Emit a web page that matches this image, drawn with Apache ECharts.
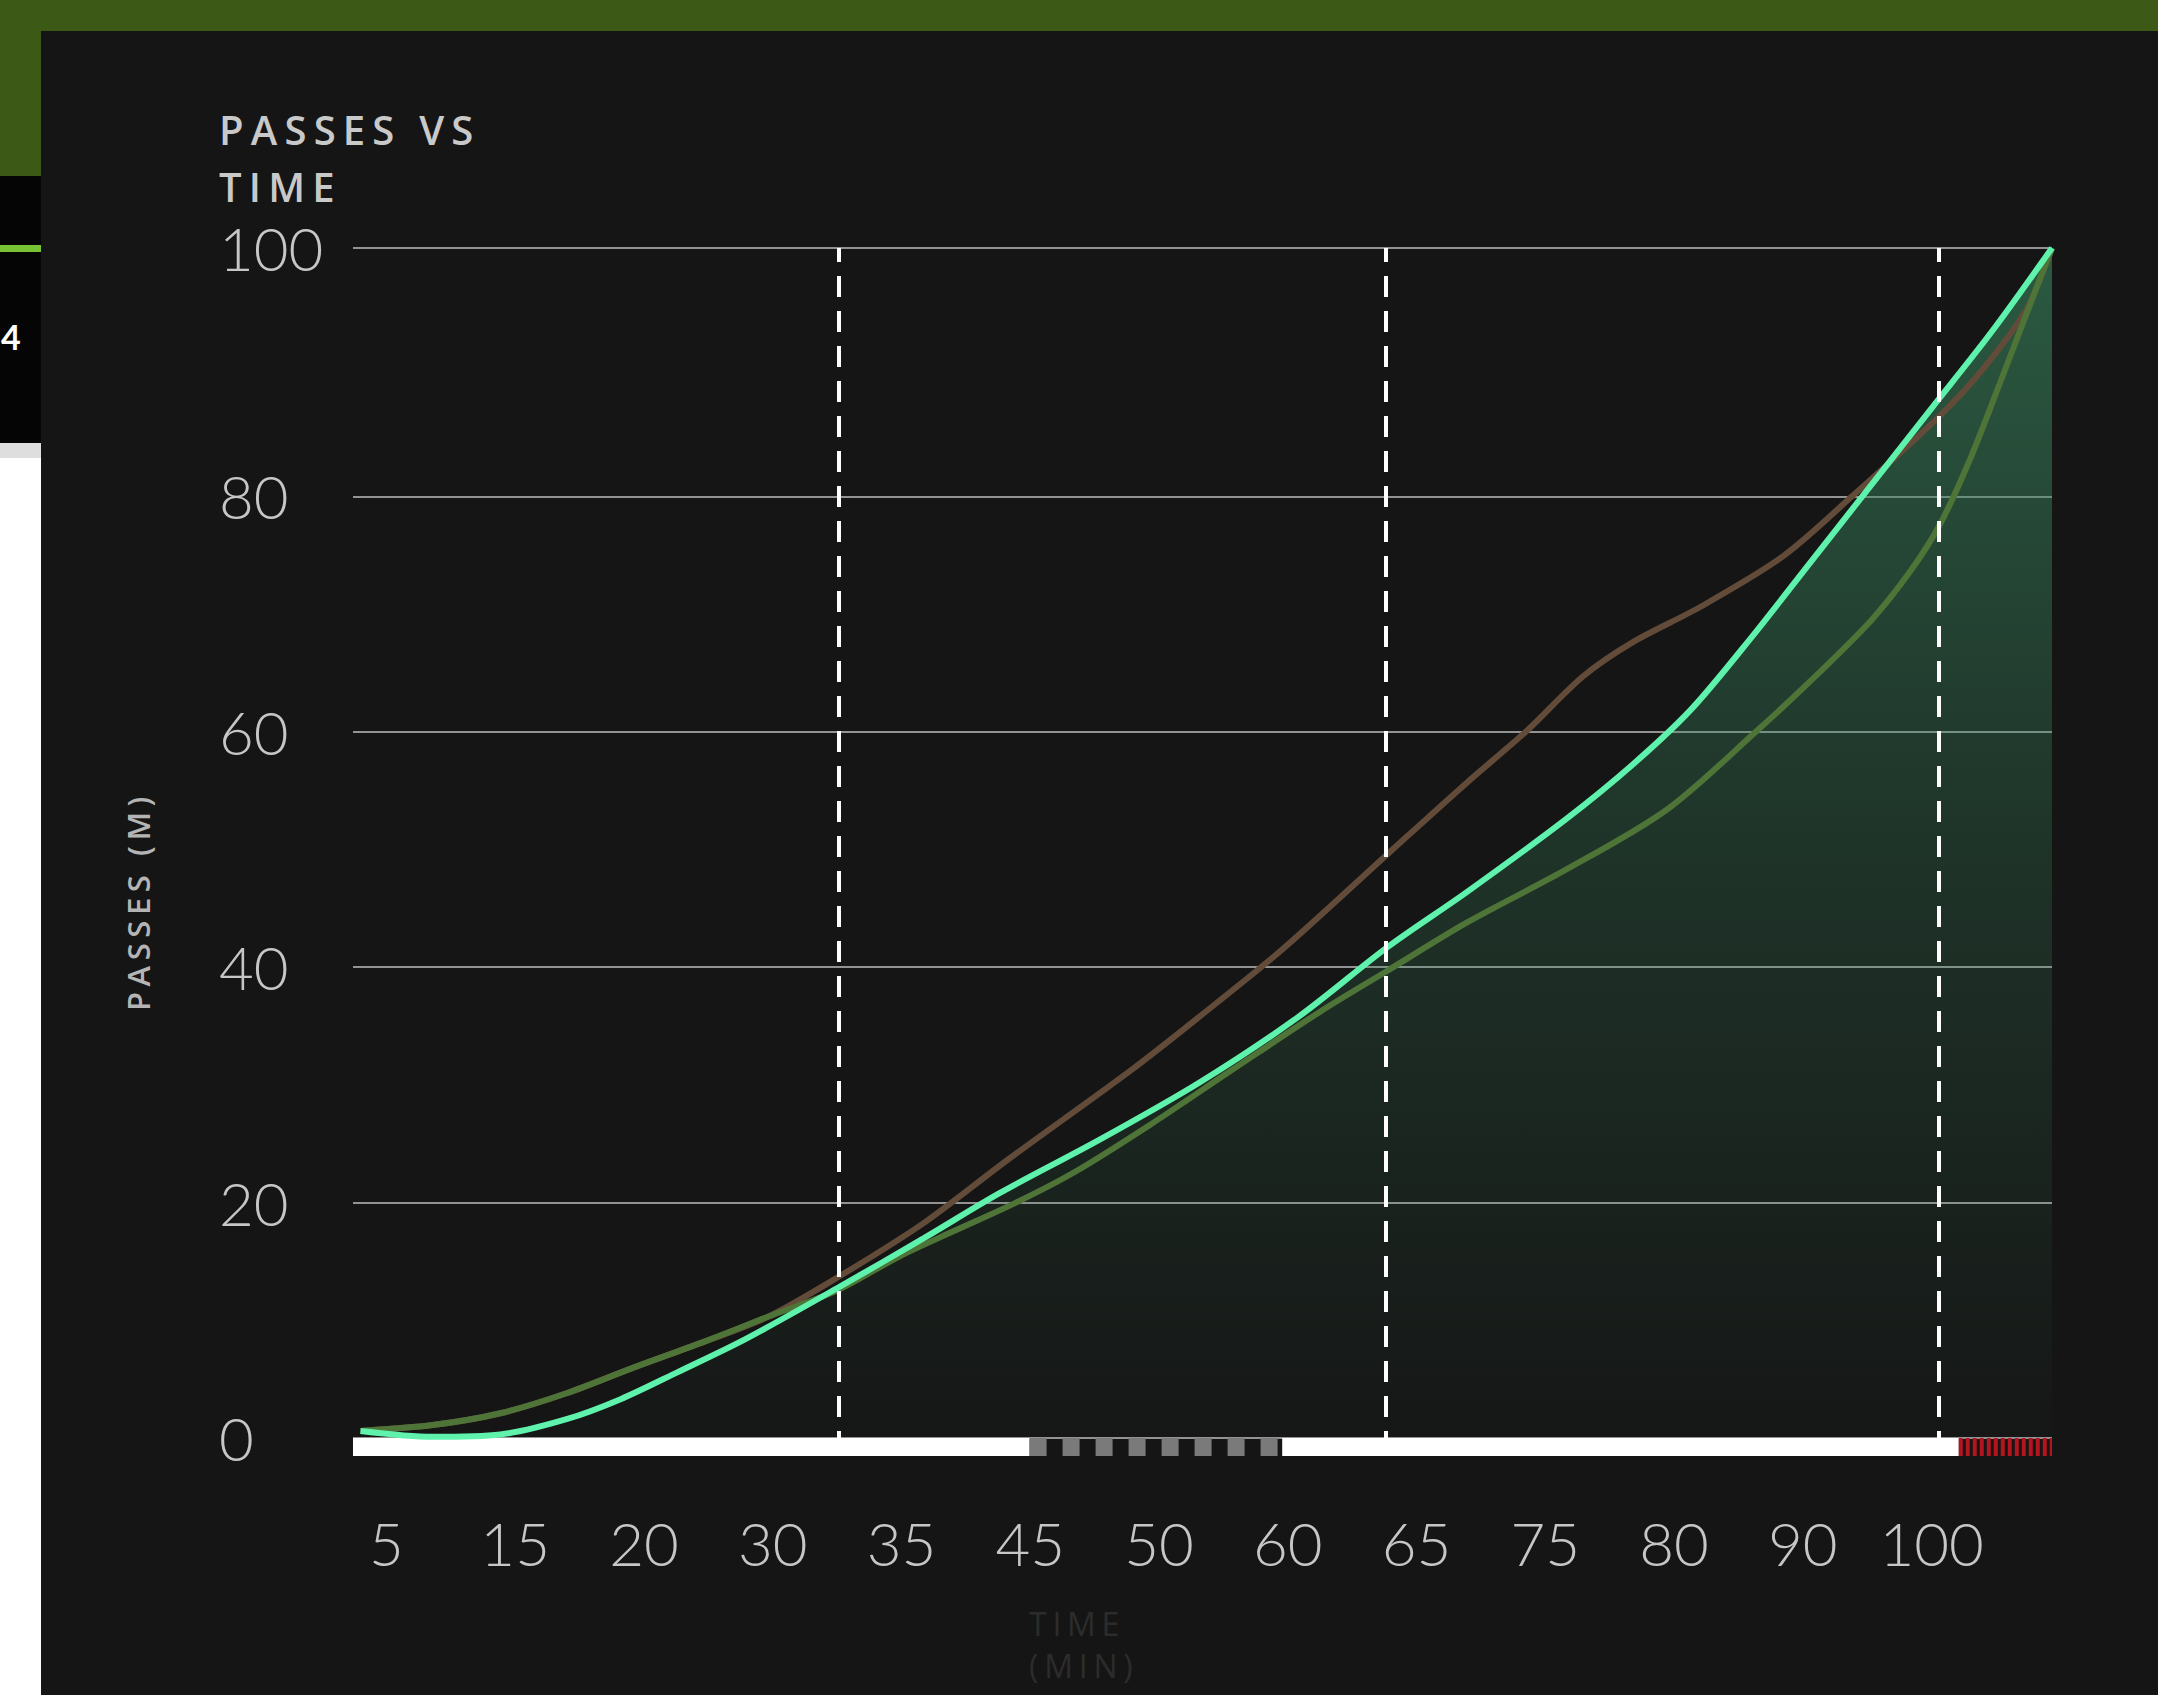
<!DOCTYPE html>
<html>
<head>
<meta charset="utf-8">
<title>Passes vs time</title>
<script src="https://cdn.jsdelivr.net/npm/echarts@6/dist/echarts.min.js"></script>
<style>
  html, body { margin: 0; padding: 0; }
  body { width: 2158px; height: 1695px; position: relative; overflow: hidden; background: #ffffff; }
  .block { position: absolute; }
  .tab-num { position: absolute; left: 1px; top: 316px; color: #ffffff; font: 700 34px Lato, sans-serif; }
  #chart { position: absolute; left: 0; top: 0; width: 2158px; height: 1695px; }
  /* spaced capitals, like the original headings */
  #chart text[style*="Open Sans"] { letter-spacing: 0.18em; }
</style>
</head>
<body>
  <div class="block" style="left:0;top:0;width:2158px;height:31px;background:#3c5a15"></div>
  <div class="block" style="left:0;top:31px;width:41px;height:145px;background:#3c5a15"></div>
  <div class="block" style="left:0;top:176px;width:41px;height:267px;background:#050505"></div>
  <div class="block" style="left:0;top:245px;width:41px;height:7px;background:#78c236"></div>
  <div class="block" style="left:0;top:443px;width:41px;height:15px;background:#dedede"></div>
  <div class="block" style="left:0;top:458px;width:41px;height:1237px;background:#ffffff"></div>
  <div class="tab-num">4</div>
  <div class="block" style="left:41px;top:31px;width:2117px;height:1664px;background:#151515"></div>
  <div id="chart"></div>
<script>
// tick labels
const xTickLabels = ['5', '15', '20', '30', '35', '45', '50', '60', '65', '75', '80', '90', '100']
const yTickValues = [0, 20, 40, 60, 80, 101.1]
const yTickLabels = ['0', '20', '40', '60', '80', '100']

// match clock (minutes elapsed) and passes for each side
const mintTime = [0.5, 5.3, 9.8, 14.2, 17.8, 21.6, 26.1, 32.3, 38.0, 43.0, 49.6, 56.3, 62.9, 68.8, 74.1, 80.7, 85.1, 89.0, 93.0, 97.0, 101.0, 105.0, 109.0, 113]
const mintPasses = [0.6, 0.1, 0.3, 1.6, 3.3, 5.6, 8.4, 12.8, 17.0, 20.8, 25.3, 30.2, 35.8, 41.7, 46.4, 52.6, 57.2, 61.9, 68.0, 74.5, 81.0, 87.5, 94.0, 101.1]

const brownTime = [0.5, 5.3, 9.8, 14.2, 18.7, 23.2, 27.6, 32.3, 38.0, 43.5, 51.8, 56.3, 61.8, 68.8, 74.1, 78.0, 81.8, 85.1, 89.6, 95.1, 99.7, 105.5, 108.4, 111.3, 113]
const brownPasses = [0.6, 1.1, 2.1, 3.8, 6.0, 8.1, 10.3, 13.7, 18.3, 23.6, 31.3, 35.8, 41.5, 49.6, 55.7, 60.0, 64.7, 67.6, 70.6, 74.9, 80.0, 86.8, 90.8, 95.9, 101.1]

const oliveTime = [0.5, 5.3, 9.8, 14.2, 18.7, 23.2, 27.6, 32.3, 36.3, 40.0, 44.1, 48.0, 53.0, 58.5, 64.3, 68.8, 74.1, 80.7, 87.4, 93.3, 97.5, 101.0, 103.5, 105.5, 107.5, 109.5, 111.3, 113]
const olivePasses = [0.6, 1.1, 2.1, 3.8, 6.0, 8.1, 10.3, 12.6, 15.4, 17.6, 20.0, 22.6, 26.6, 31.3, 36.2, 39.7, 43.8, 48.3, 53.4, 60.0, 65.0, 69.5, 73.5, 77.5, 83.0, 89.5, 95.5, 101.1]

// events (dashed markers)
const eventMinutes = [32.3, 68.7, 105.5]

// match periods for the timeline strip
const periodStart = [0, 45, 61.8, 106.8]
const periodEnd = [45, 61.8, 106.8, 113]
const periodKind = ['play', 'break', 'play', 'stoppage']

const periodLook = {
  play: { color: '#ffffff', dash: null },
  break: { color: '#7a7a7a', dash: [17, 16] },
  stoppage: { color: '#b3141e', dash: [4, 3] },
}

const zip = (xs, ys) => xs.map((x, i) => [x, ys[i]])

const digitFont = { fontFamily: 'Lato', fontWeight: 300, fontSize: 60, lineHeight: 50, color: '#c6c6c6' }

const chart = echarts.init(document.getElementById('chart'), null, { renderer: 'svg' })
chart.setOption({
  animation: false,
  title: [
    {
      text: 'PASSES VS\nTIME',
      left: 219,
      top: 101,
      padding: 0,
      textStyle: { fontFamily: 'Open Sans', fontWeight: 600, fontSize: 40, lineHeight: 57, color: '#c9c9c9' },
    },
    {
      text: 'TIME\n(MIN)',
      left: 1029,
      top: 1602,
      padding: 0,
      textStyle: { fontFamily: 'Open Sans', fontWeight: 500, fontSize: 32, lineHeight: 42, color: '#2c2c2c' },
    },
  ],
  graphic: [
    {
      type: 'text',
      x: 138,
      y: 901,
      rotation: Math.PI / 2,
      style: {
        text: 'PASSES (M)',
        font: '600 31px Open Sans',
        fill: '#b4b4b4',
        align: 'center',
        verticalAlign: 'middle',
      },
    },
  ],
  grid: [
    { left: 353, right: 106, top: 248, bottom: 257 },
    { left: 322, width: 1674, top: 1430, height: 10 },
  ],
  xAxis: [
    { type: 'value', gridIndex: 0, min: 0, max: 113, show: false },
    {
      type: 'category',
      gridIndex: 1,
      data: xTickLabels,
      boundaryGap: true,
      axisLine: { show: false },
      axisTick: { show: false },
      splitLine: { show: false },
      axisLabel: { ...digitFont, interval: 0, margin: 78 },
    },
  ],
  yAxis: [
    {
      type: 'value',
      gridIndex: 0,
      min: 0,
      max: 101.1,
      axisLine: { show: false },
      axisTick: { show: false, customValues: yTickValues },
      splitLine: { show: true, lineStyle: { color: '#939393', width: 2 } },
      axisLabel: {
        ...digitFont,
        customValues: yTickValues,
        align: 'left',
        margin: 134,
        formatter: (val) => yTickLabels[yTickValues.indexOf(val)] ?? '',
      },
    },
    { type: 'value', gridIndex: 1, show: false },
  ],
  series: [
    {
      name: 'timeline',
      type: 'custom',
      clip: false,
      silent: true,
      z: 3,
      encode: { x: [0, 1] },
      data: periodStart.map((s, i) => [s, periodEnd[i]]),
      renderItem(params, api) {
        const look = periodLook[periodKind[params.dataIndex]]
        const a = api.coord([api.value(0), 0])
        const b = api.coord([api.value(1), 0])
        return {
          type: 'line',
          shape: { x1: a[0], y1: a[1] + 9, x2: b[0], y2: b[1] + 9 },
          style: { stroke: look.color, lineWidth: 18, lineDash: look.dash },
        }
      },
    },
    {
      name: 'area',
      type: 'line',
      data: zip(mintTime, mintPasses),
      smooth: 0.3,
      showSymbol: false,
      silent: true,
      z: 1,
      lineStyle: { width: 0 },
      areaStyle: {
        color: new echarts.graphic.LinearGradient(0, 0, 0, 1, [
          { offset: 0, color: 'rgba(58,136,96,0.85)' },
          { offset: 0.5, color: 'rgba(58,136,96,0.38)' },
          { offset: 1, color: 'rgba(58,136,96,0.02)' },
        ]),
      },
    },
    {
      name: 'brown',
      type: 'line',
      data: zip(brownTime, brownPasses),
      smooth: 0.3,
      showSymbol: false,
      z: 2,
      lineStyle: { color: '#634b3a', width: 6 },
    },
    {
      name: 'olive',
      type: 'line',
      data: zip(oliveTime, olivePasses),
      smooth: 0.3,
      showSymbol: false,
      z: 2,
      lineStyle: { color: '#4e7437', width: 6 },
    },
    {
      name: 'passes',
      type: 'line',
      data: zip(mintTime, mintPasses),
      smooth: 0.3,
      showSymbol: false,
      z: 4,
      lineStyle: { color: '#5ff2ad', width: 6 },
      markLine: {
        silent: true,
        symbol: ['none', 'none'],
        label: { show: false },
        lineStyle: { color: '#ffffff', width: 4, type: [21, 14], dashOffset: 14, opacity: 1 },
        data: eventMinutes.map((m) => ({ xAxis: m })),
      },
    },
  ],
})
</script>
</body>
</html>
